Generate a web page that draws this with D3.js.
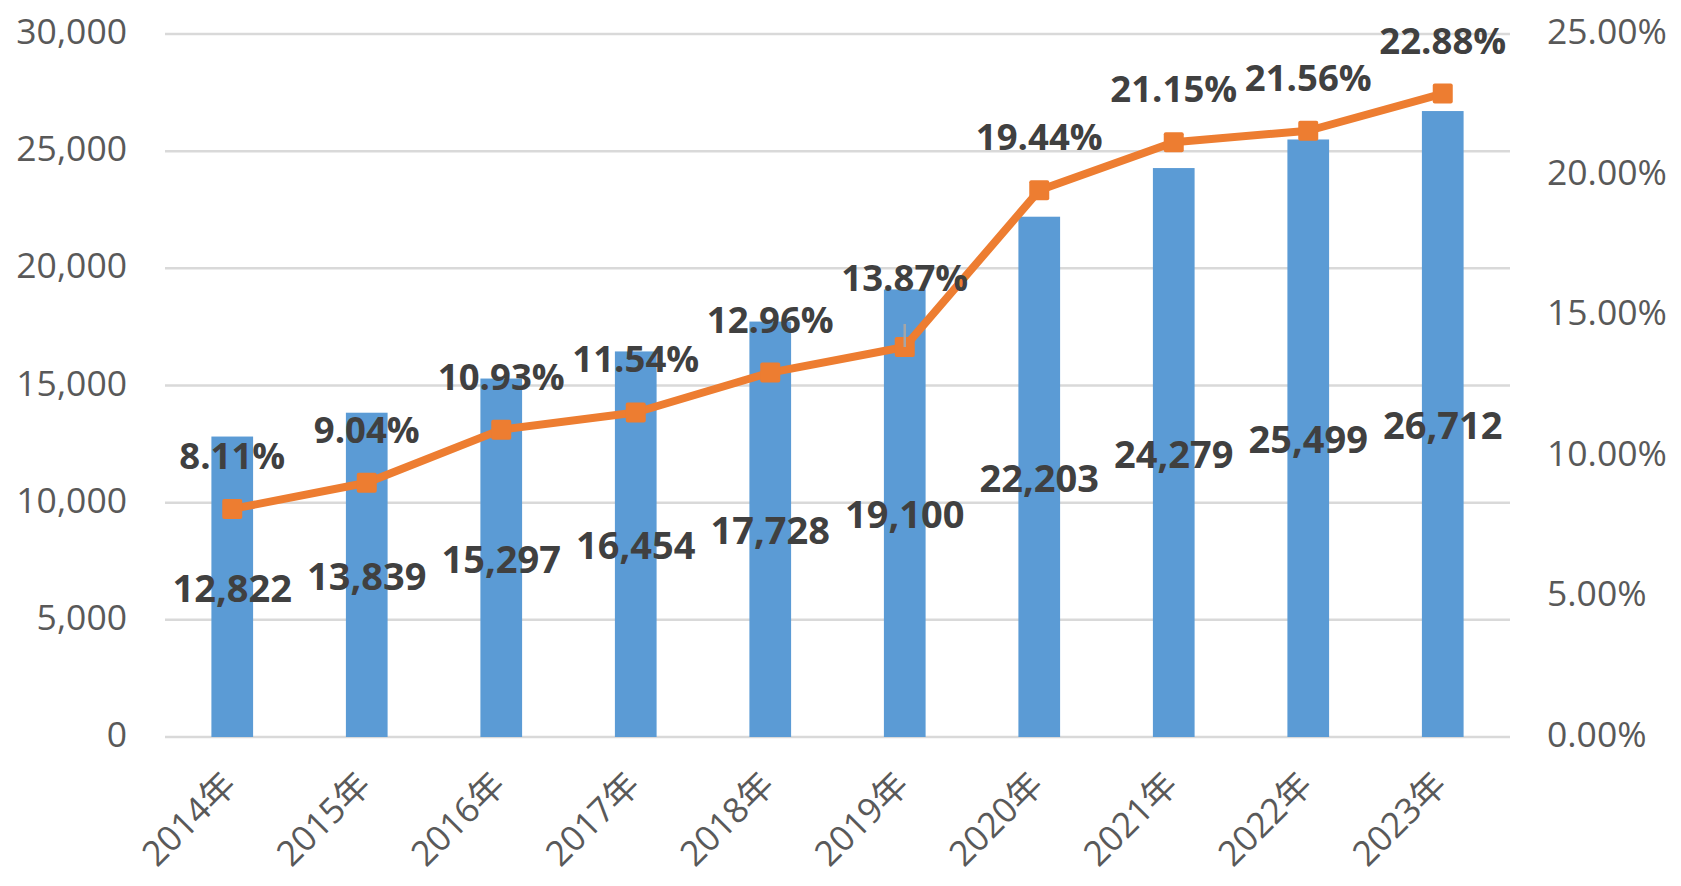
<!DOCTYPE html>
<html>
<head>
<meta charset="utf-8">
<script src="https://cdn.jsdelivr.net/npm/d3@7"></script>
<style>
  html, body { margin: 0; padding: 0; background: #fff; }
  svg { display: block; }
</style>
</head>
<body>
<svg id="chart" width="1681" height="886"></svg>
<script>
const years = ["2014年","2015年","2016年","2017年","2018年","2019年","2020年","2021年","2022年","2023年"];
const values = [12822, 13839, 15297, 16454, 17728, 19100, 22203, 24279, 25499, 26712];
const rates = [8.11, 9.04, 10.93, 11.54, 12.96, 13.87, 19.44, 21.15, 21.56, 22.88];
const leftTicks = [0, 5000, 10000, 15000, 20000, 25000, 30000];
const rightTicks = [0, 5, 10, 15, 20, 25];
// label that was dragged higher in the original (with a leader line)
const liftedLabel = "2019年";

const FONT = "'Open Sans', 'Noto Sans CJK JP', sans-serif";
const svg = d3.select("#chart");

const x = d3.scaleBand().domain(years).range([165, 1510]).paddingInner(0.69).paddingOuter(0.345);
const yL = d3.scaleLinear().domain([0, 30000]).range([737, 34]);
const yR = d3.scaleLinear().domain([0, 25]).range([737, 34]);
const cx = d => x(d) + x.bandwidth() / 2;

// gridlines
svg.append("g").selectAll("line").data(leftTicks).join("line")
  .attr("x1", 165).attr("x2", 1510)
  .attr("y1", d => yL(d)).attr("y2", d => yL(d))
  .attr("stroke", "#D9D9D9").attr("stroke-width", 2.5);

// left axis labels
svg.append("g").selectAll("text").data(leftTicks).join("text")
  .attr("x", 127).attr("y", d => yL(d) + 10)
  .attr("text-anchor", "end")
  .attr("font-family", FONT).attr("font-size", 35.5).attr("fill", "#595959")
  .text(d => d3.format(",")(d));

// right axis labels
svg.append("g").selectAll("text").data(rightTicks).join("text")
  .attr("x", 1547).attr("y", d => yR(d) + 10)
  .attr("text-anchor", "start")
  .attr("font-family", FONT).attr("font-size", 35.5).attr("fill", "#595959")
  .text(d => d.toFixed(2) + "%");

// bars
svg.append("g").selectAll("rect").data(years).join("rect")
  .attr("x", d => x(d)).attr("width", x.bandwidth())
  .attr("y", (d, i) => yL(values[i]))
  .attr("height", (d, i) => yL(0) - yL(values[i]))
  .attr("fill", "#5B9BD5");

// x labels
svg.append("g").selectAll("text").data(years).join("text")
  .attr("transform", d => `translate(${cx(d) + 6},${787}) rotate(-45)`)
  .attr("text-anchor", "end")
  .attr("font-family", FONT).attr("font-size", 35).attr("fill", "#595959")
  .text(d => d);

// value labels (centered in bars)
svg.append("g").selectAll("text").data(years).join("text")
  .attr("x", d => cx(d))
  .attr("y", (d, i) => (yL(values[i]) + yL(0)) / 2 + 15)
  .attr("text-anchor", "middle")
  .attr("font-family", FONT).attr("font-weight", 700).attr("font-size", 38).attr("fill", "#404040")
  .text(d => d3.format(",")(values[years.indexOf(d)]));

// line
const line = d3.line().x((d, i) => cx(years[i])).y(d => yR(d));
svg.append("path").datum(rates)
  .attr("d", line).attr("fill", "none")
  .attr("stroke", "#ED7D31").attr("stroke-width", 8).attr("stroke-linejoin", "round");

// markers
svg.append("g").selectAll("rect").data(rates).join("rect")
  .attr("x", (d, i) => cx(years[i]) - 10).attr("y", d => yR(d) - 10)
  .attr("width", 20).attr("height", 20).attr("rx", 2)
  .attr("fill", "#ED7D31");

// leader line for lifted label
const li = years.indexOf(liftedLabel);
svg.append("line")
  .attr("x1", cx(liftedLabel)).attr("x2", cx(liftedLabel))
  .attr("y1", yR(rates[li]) - 23).attr("y2", yR(rates[li]))
  .attr("stroke", "#A6A6A6").attr("stroke-width", 2.5);

// percentage labels
svg.append("g").selectAll("text").data(rates).join("text")
  .attr("x", (d, i) => cx(years[i]))
  .attr("y", (d, i) => yR(d) - (years[i] === liftedLabel ? 56 : 40))
  .attr("text-anchor", "middle")
  .attr("font-family", FONT).attr("font-weight", 700).attr("font-size", 36.5).attr("fill", "#404040")
  .text(d => d.toFixed(2) + "%");
</script>
</body>
</html>
